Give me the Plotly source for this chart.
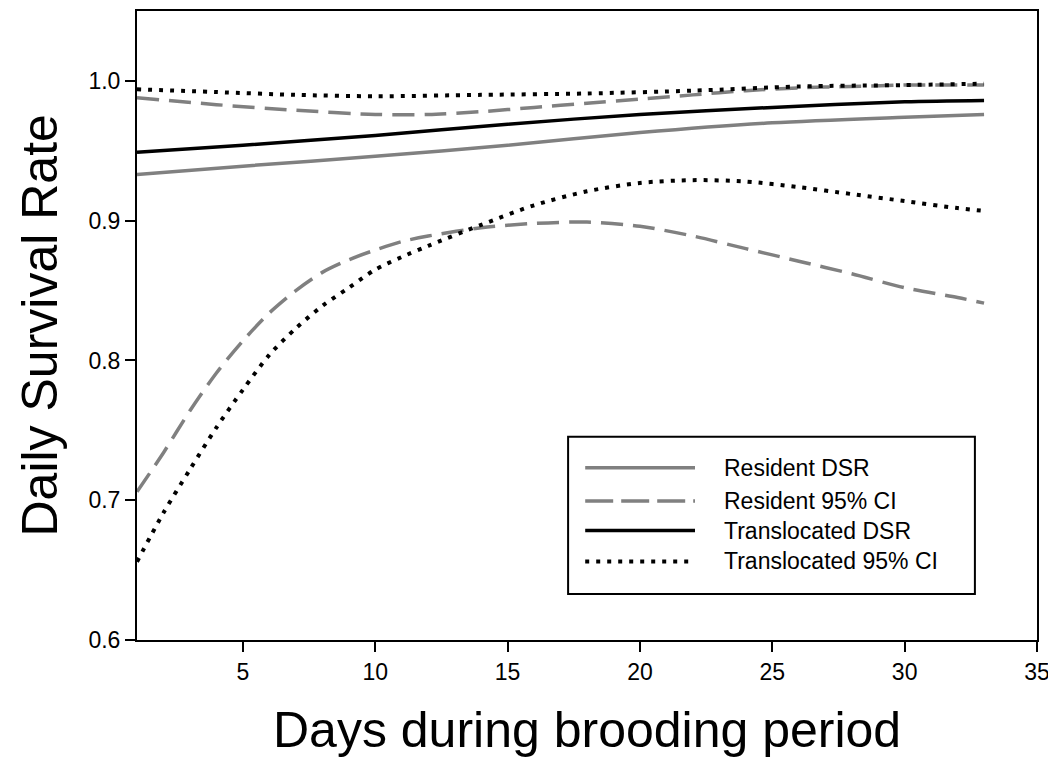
import plotly.graph_objects as go

# ---- data ----
res_dsr_days = [1, 5, 10, 15, 20, 25, 30, 33]
res_dsr = [0.933, 0.939, 0.946, 0.954, 0.963, 0.970, 0.974, 0.976]

trans_dsr_days = [1, 5, 10, 15, 20, 25, 30, 33]
trans_dsr = [0.949, 0.954, 0.961, 0.969, 0.976, 0.981, 0.985, 0.986]

res_up_days = [1, 4, 7, 10, 12, 14, 16, 18, 20, 22, 24, 26, 28, 30, 33]
res_up = [0.988, 0.983, 0.979, 0.976, 0.976, 0.978, 0.981, 0.984, 0.987, 0.990, 0.993, 0.995, 0.996, 0.997, 0.997]

res_lo_days = [1, 2, 3, 4, 5, 6, 7, 8, 9, 10, 11, 12, 14, 16, 18, 20, 22, 24, 26, 28, 30, 32, 33]
res_lo = [0.706, 0.734, 0.764, 0.791, 0.814, 0.834, 0.850, 0.863, 0.872, 0.879, 0.885, 0.889,
          0.895, 0.898, 0.899, 0.896, 0.889, 0.880, 0.871, 0.862, 0.852, 0.845, 0.841]

trans_up_days = [1, 4, 7, 10, 14, 18, 22, 26, 30, 33]
trans_up = [0.994, 0.992, 0.990, 0.989, 0.990, 0.991, 0.993, 0.996, 0.997, 0.998]

trans_lo_days = [1, 2, 3, 4, 5, 6, 7, 8, 9, 10, 11, 12, 14, 16, 18, 20, 22, 24, 26, 28, 30, 32, 33]
trans_lo = [0.656, 0.691, 0.722, 0.752, 0.779, 0.804, 0.823, 0.839, 0.852, 0.865, 0.874, 0.882,
            0.897, 0.911, 0.921, 0.927, 0.929, 0.928, 0.924, 0.919, 0.914, 0.909, 0.907]

legend_labels = ["Resident DSR", "Resident 95% CI", "Translocated DSR", "Translocated 95% CI"]
x_ticks = [5, 10, 15, 20, 25, 30, 35]
y_ticks = [0.6, 0.7, 0.8, 0.9, 1.0]
x_title = "Days during brooding period"
y_title = "Daily Survival Rate"

GRAY = "#808080"
BLACK = "#000000"
FONT = "Liberation Sans, Arial, sans-serif"

styles = {
    "res_dsr": dict(color=GRAY, width=3.5, dash="solid"),
    "res_ci": dict(color=GRAY, width=3.5, dash="22px,10px"),
    "trans_dsr": dict(color=BLACK, width=3.5, dash="solid"),
    "trans_ci": dict(color=BLACK, width=4, dash="4px,7px"),
}
leg_dash = {"res_ci": "28px,8px"}

fig = go.Figure()

def add(x, y, style):
    fig.add_trace(go.Scatter(x=x, y=y, mode="lines", line=dict(shape="spline", smoothing=0.8, **style),
                             showlegend=False, hoverinfo="skip"))

add(res_up_days, res_up, styles["res_ci"])
add(res_lo_days, res_lo, styles["res_ci"])
add(trans_up_days, trans_up, styles["trans_ci"])
add(trans_lo_days, trans_lo, styles["trans_ci"])
add(res_dsr_days, res_dsr, styles["res_dsr"])
add(trans_dsr_days, trans_dsr, styles["trans_dsr"])

# ---- manual legend (box, samples, labels) ----
shapes = [dict(type="rect", xref="paper", yref="paper", x0=0.479, x1=0.931, y0=0.073, y1=0.323,
               line=dict(color=BLACK, width=2), fillcolor="white", layer="above")]
annotations = []
row_y = [0.274, 0.221, 0.174, 0.125]
leg_keys = ["res_dsr", "res_ci", "trans_dsr", "trans_ci"]
for label, yy, key in zip(legend_labels, row_y, leg_keys):
    st = styles[key]
    shapes.append(dict(type="line", xref="paper", yref="paper", x0=0.498, x1=0.620, y0=yy, y1=yy,
                       line=dict(color=st["color"], width=st["width"], dash=leg_dash.get(key, st["dash"])),
                       layer="above"))
    annotations.append(dict(xref="paper", yref="paper", x=0.650, y=yy, text=label, showarrow=False,
                            xanchor="left", yanchor="middle", font=dict(family=FONT, size=23, color=BLACK)))

# axis titles
annotations.append(dict(xref="paper", yref="paper", x=0.5, y=-0.190, text=x_title, showarrow=False,
                        xanchor="center", yanchor="bottom", font=dict(family=FONT, size=50, color=BLACK)))
annotations.append(dict(xref="paper", yref="paper", x=-0.1422, y=0.5, text=y_title, showarrow=False,
                        textangle=-90, xanchor="left", yanchor="middle",
                        font=dict(family=FONT, size=50, color=BLACK)))

fig.update_layout(
    width=1048, height=753,
    margin=dict(l=129, r=19, t=1, b=121),
    paper_bgcolor="white", plot_bgcolor="white",
    font=dict(family=FONT, color=BLACK),
    shapes=shapes, annotations=annotations,
    showlegend=False,
)
fig.update_xaxes(range=[1, 35], tickvals=x_ticks, ticks="outside", ticklen=10, tickwidth=2,
                 tickcolor=BLACK, showline=True, linecolor=BLACK, linewidth=2, mirror=True,
                 showgrid=False, zeroline=False, tickfont=dict(size=23, family=FONT))
fig.update_yaxes(range=[0.6, 1.05], tickvals=y_ticks, tickformat=".1f", ticks="outside", ticklen=10,
                 tickwidth=2, tickcolor=BLACK, showline=True, linecolor=BLACK, linewidth=2, mirror=True,
                 showgrid=False, zeroline=False, tickfont=dict(size=23, family=FONT))

fig.write_html("out.html")
